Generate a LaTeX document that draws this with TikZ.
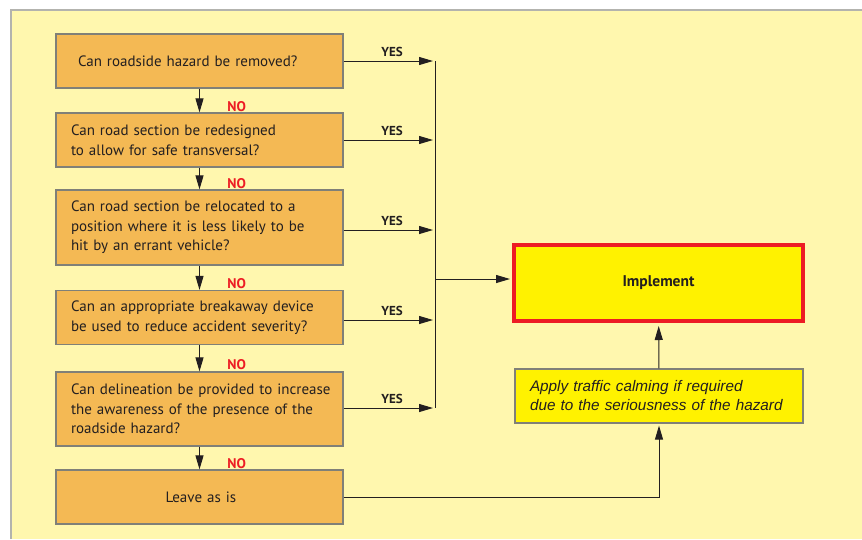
\documentclass[tikz,border=0pt]{standalone}
\usepackage{fontspec}
\setmainfont{PT Sans}
\newfontfamily\applyfont{Liberation Sans}
\usetikzlibrary{arrows.meta}
\definecolor{bgyellow}{RGB}{255,247,174}
\definecolor{qorange}{RGB}{244,185,84}
\definecolor{boxgrey}{RGB}{128,128,120}
\definecolor{hiyellow}{RGB}{255,242,0}
\definecolor{alertred}{RGB}{237,28,36}
\definecolor{inkgrey}{RGB}{35,31,32}

\begin{document}
\begin{tikzpicture}[x=1pt,y=-1pt,>={Triangle[length=14pt,width=8pt]},
  every node/.style={font=\fontsize{15}{19.5}\selectfont,text=inkgrey},
  question/.style={draw=boxgrey,line width=1.2pt,fill=qorange,minimum width=287pt,inner sep=0pt,text width=280pt,align=left,execute at begin node={\leftskip=11.5pt}},
  yeslabel/.style={font=\bfseries\fontsize{13}{15}\selectfont,above,pos=0.53},
  nolabel/.style={font=\bfseries\fontsize{14}{16}\selectfont,text=alertred,right=24pt,pos=0.75},
  link/.style={draw=inkgrey,line width=1pt}]
  \useasboundingbox (0,0) rectangle (862,539);
  \fill[bgyellow] (11,10) rectangle (862,539);
  \draw[boxgrey!60,line width=1.5pt] (11,539) -- (11,10) -- (862,10);

  \node[question,minimum height=54pt,execute at begin node={\leftskip=18.5pt}] (q1) at (199.5,61) {Can roadside hazard be removed?};
  \node[question,minimum height=54pt] (q2) at (199.5,140) {Can road section be redesigned\\to allow for safe transversal?};
  \node[question,minimum height=75pt] (q3) at (199.5,227.5) {Can road section be relocated to a\\position where it is less likely to be\\hit by an errant vehicle?};
  \node[question,minimum height=54pt] (q4) at (199.5,317.5) {Can an appropriate breakaway device\\be used to reduce accident severity?};
  \node[question,minimum height=74pt] (q5) at (199.5,409) {Can delineation be provided to increase\\the awareness of the presence of the\\roadside hazard?};
  \node[question,minimum height=54pt,execute at begin node={\leftskip=106pt}] (leave) at (199.5,497) {Leave as is};

  \node[draw=alertred,line width=4pt,fill=hiyellow,minimum width=289pt,minimum height=76pt,font=\bfseries\fontsize{15.5}{17}\selectfont] (impl) at (658.5,283) {Implement};
  \node[draw=boxgrey,line width=1.2pt,fill=hiyellow,minimum width=288pt,minimum height=54pt,inner sep=0pt,text width=258pt,align=left,font=\applyfont\itshape\fontsize{15.3}{19}\selectfont] (apply) at (659,396) {Apply traffic calming if required\\due to the seriousness of the hazard};

  % the YES side
  \coordinate (j1) at (435,61);
  \coordinate (j2) at (435,140);
  \coordinate (j3) at (435,230);
  \coordinate (j4) at (435,320);
  \coordinate (j5) at (435,408);
  \coordinate (jm) at (435,279);
  \foreach \q/\j in {q1/j1,q2/j2,q3/j3,q4/j4,q5/j5}
    \draw[link,->,shorten >=2pt] (\q.east |- \j) -- node[yeslabel] {YES} (\j);
  \draw[link] (j1) -- (j5);
  \draw[link,->,shorten >=2pt] (jm) -- (jm -| impl.west);

  % the NO side
  \foreach \a/\b in {q1/q2,q2/q3,q3/q4,q4/q5,q5/leave}
    \draw[link,->] (\a) -- node[nolabel] {NO} (\b);

  \draw[link,->,shorten >=3pt] (apply) -- (impl);
  \draw[link,->,shorten >=2pt] (leave) -| (apply);
\end{tikzpicture}
\end{document}
